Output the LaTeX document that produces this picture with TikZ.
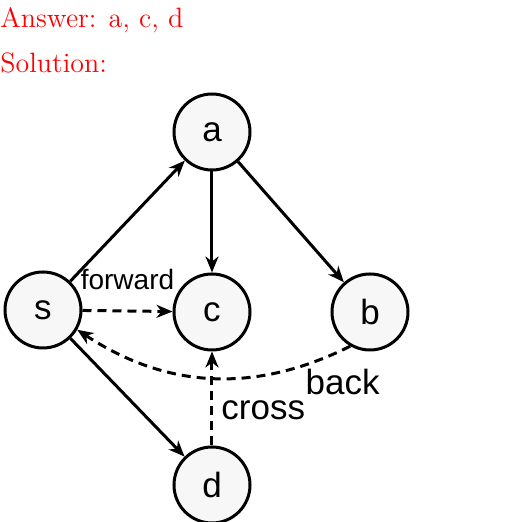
\documentclass[tikz,border=0pt]{standalone}
\usepackage{fontspec}
\usepackage{xcolor}
\usetikzlibrary{arrows.meta, positioning}
\newfontfamily\graphfont{Liberation Sans}
\definecolor{nodefill}{RGB}{247,247,247}

\begin{document}
\begin{tikzpicture}[
    x=0.5pt, y=-0.5pt,
    vertex/.style={draw, circle, line width=1.5pt, fill=nodefill, minimum size=38pt, inner sep=0pt, font=\graphfont\fontsize{17.5}{20}\selectfont},
    edge/.style={-{Stealth[length=8pt, width=6.5pt, inset=2.5pt]}, line width=1.5pt},
    dashedge/.style={edge, dash pattern=on 4.5pt off 3pt},
    elabel/.style={font=\graphfont\fontsize{17.5}{20}\selectfont, inner sep=1pt},
    answer/.style={anchor=base west, text=red, inner sep=0pt, font=\fontsize{14}{16}\selectfont},
    ]
    \useasboundingbox (0,0) rectangle (527,522);

    % answer text (top left)
    \node[answer] (ans) at (0,28) {Answer: a, c, d};
    \node[answer] (sol) at (0,73) {Solution:};

    % vertices
    \node[vertex] (s) at (43,310) {s};
    \node[vertex] (a) at (212,132) {a};
    \node[vertex] (c) at (212,312) {c};
    \node[vertex] (b) at (370,312) {b};
    \node[vertex] (d) at (212,485) {d};

    % tree edges
    \draw[edge] (s) -- (a);
    \draw[edge] (a) -- (c);
    \draw[edge] (a) -- (b);
    \draw[edge] (s) -- (d);

    % non-tree edges
    \draw[dashedge] (s) -- node[elabel, above=9pt, font=\graphfont\fontsize{14}{16}\selectfont] {forward} (c);
    \draw[dashedge] (d) -- node[elabel, right=3pt, pos=0.38] {cross} (c);
    \draw[dashedge] (b.240) to[bend left=30] node[elabel, below right, pos=0.17] {back} (s.-30);
\end{tikzpicture}
\end{document}
